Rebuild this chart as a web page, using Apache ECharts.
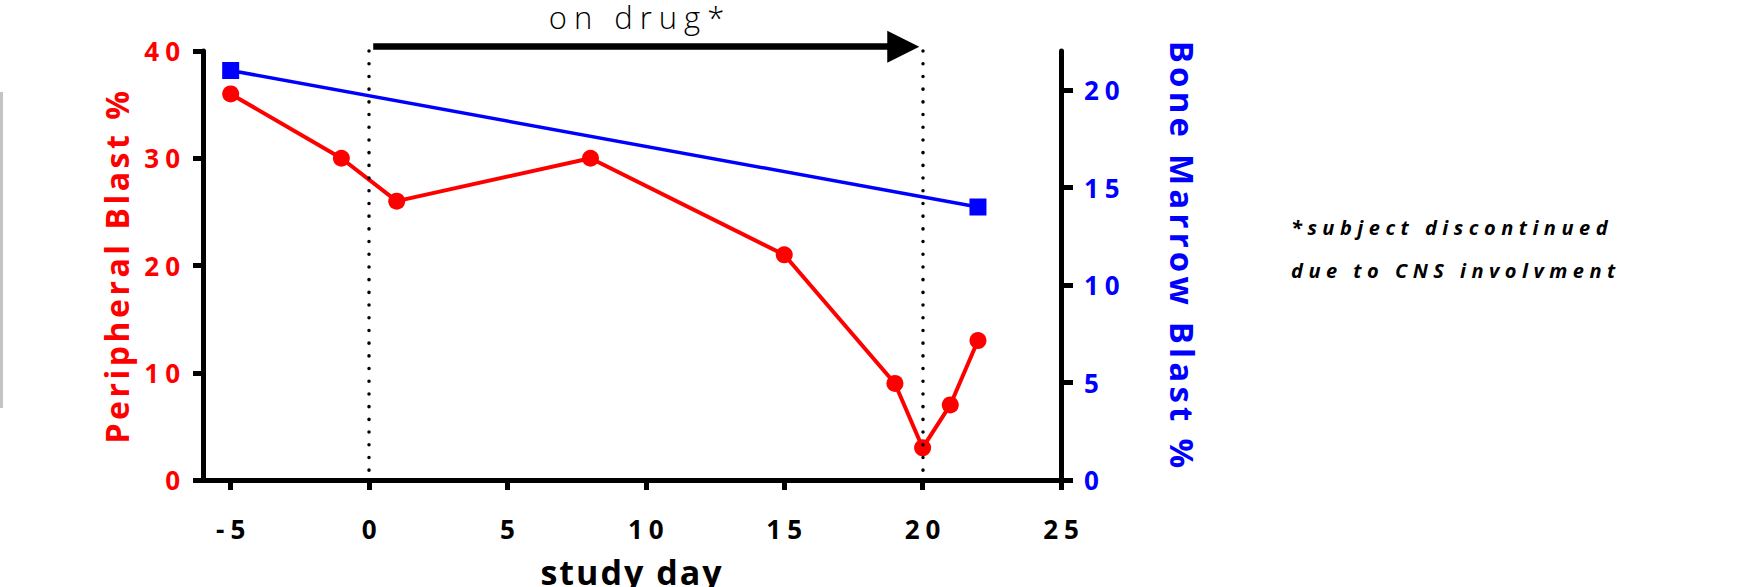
<!DOCTYPE html>
<html>
<head>
<meta charset="utf-8">
<script src="https://cdn.jsdelivr.net/npm/echarts@6.0.0/dist/echarts.min.js"></script>
<style>
  html, body { margin: 0; padding: 0; background: #fff; }
  #chart { width: 1754px; height: 587px; }
  /* letter spacing of the original figure's text */
  #chart text[style*="26px"] { letter-spacing: 6px; }
  #chart text[style*="32px"] { letter-spacing: 3.5px; }
  #chart text[style*="33px"] { letter-spacing: 4.2px; }
  #chart text[style*="34px"] { letter-spacing: 2px; }
  #chart text[style*="31px"] { letter-spacing: 7px; }
  #chart text[style*="20px"] { letter-spacing: 5.5px; }
</style>
</head>
<body>
<div id="chart"></div>
<script>
// ---- data ----
const peripheralDays = [-5, -1, 1, 8, 15, 19, 20, 21, 22];
const peripheralBlast = [36, 30, 26, 30, 21, 9, 3, 7, 13];
const marrowDays = [-5, 22];
const marrowBlast = [21, 14];
const xTicks = [-5, 0, 5, 10, 15, 20, 25];
const leftTicks = [0, 10, 20, 30, 40];
const rightTicks = [0, 5, 10, 15, 20];
const drugStartDay = 0;
const drugEndDay = 20;
const arrowFrom = 0.15, arrowTo = 19.3, arrowLevel = 40.4;

const FONT = '"Open Sans", "Noto Sans", sans-serif';

const chart = echarts.init(document.getElementById('chart'), null, { renderer: 'svg' });

const tickLabel = (color, extra) => Object.assign({
  color: color, fontFamily: FONT, fontWeight: 'bold', fontSize: 26
}, extra);

const option = {
  animation: false,
  backgroundColor: '#ffffff',
  grid: { left: 203, right: 693, top: 51, bottom: 107, containLabel: false, outerBoundsMode: 'none' },
  xAxis: {
    type: 'value', min: -6, max: 25,
    name: 'study day', nameLocation: 'middle', nameGap: 77,
    nameTextStyle: { color: '#000', fontFamily: FONT, fontWeight: 'bold', fontSize: 34, lineHeight: 29 },
    axisLine: { onZero: false, lineStyle: { color: '#000', width: 5 } },
    axisTick: { show: true, length: 10, inside: false, customValues: xTicks, lineStyle: { color: '#000', width: 5 } },
    axisLabel: tickLabel('#000', { margin: 36, customValues: xTicks, padding: [0, 0, 0, 6] }),
    splitLine: { show: false }
  },
  yAxis: [
    {
      type: 'value', min: 0, max: 40, interval: 10, position: 'left',
      name: 'Peripheral Blast %', nameLocation: 'middle', nameGap: 71, nameRotate: 90,
      nameTextStyle: { color: '#ff0000', fontFamily: FONT, fontWeight: 'bold', fontSize: 32 },
      axisLine: { show: true, onZero: false, lineStyle: { color: '#000', width: 5 } },
      axisTick: { show: true, length: 10, customValues: leftTicks, lineStyle: { color: '#000', width: 5 } },
      axisLabel: tickLabel('#ff0000', { margin: 17, customValues: leftTicks, padding: [10, 0, 0, 0] }),
      splitLine: { show: false }
    },
    {
      type: 'value', min: 0, max: 22, interval: 5, position: 'right',
      name: 'Bone Marrow Blast %', nameLocation: 'middle', nameGap: 105, nameRotate: -90,
      nameTextStyle: { color: '#0000ff', fontFamily: FONT, fontWeight: 'bold', fontSize: 33, padding: [0, 18, 0, 0] },
      axisLine: { show: true, onZero: false, lineStyle: { color: '#000', width: 5 } },
      axisTick: { show: true, length: 12, customValues: rightTicks, lineStyle: { color: '#000', width: 5 } },
      axisLabel: tickLabel('#0000ff', { margin: 23, customValues: rightTicks, padding: [10, 0, 0, 0] }),
      splitLine: { show: false }
    }
  ],
  series: [
    {
      name: 'Peripheral Blast %', type: 'line', yAxisIndex: 0,
      data: peripheralDays.map((d, i) => [d, peripheralBlast[i]]),
      symbol: 'circle', symbolSize: 17,
      itemStyle: { color: '#ff0000' },
      lineStyle: { color: '#ff0000', width: 4 },
      z: 4,
      markLine: {
        silent: true, symbol: ['none', 'none'], label: { show: false },
        lineStyle: { color: '#000', width: 3.5, type: [0.1, 12.6], cap: 'round' },
        emphasis: { disabled: true },
        data: [
          [{ coord: [drugStartDay, 40] }, { coord: [drugStartDay, 0] }],
          [{ coord: [drugEndDay, 40] }, { coord: [drugEndDay, 0] }]
        ]
      }
    },
    {
      name: 'Bone Marrow Blast %', type: 'line', yAxisIndex: 1,
      data: marrowDays.map((d, i) => [d, marrowBlast[i]]),
      symbol: 'rect', symbolSize: 17,
      itemStyle: { color: '#0000ff' },
      lineStyle: { color: '#0000ff', width: 3.5 },
      z: 3
    },
    {
      name: 'on drug', type: 'lines', coordinateSystem: 'cartesian2d',
      xAxisIndex: 0, yAxisIndex: 0, clip: false, silent: true,
      symbol: ['none', 'triangle'], symbolSize: [26, 32],
      lineStyle: { color: '#000', width: 6.5, opacity: 1 },
      data: [{ coords: [[arrowFrom, arrowLevel], [arrowTo, arrowLevel]] }],
      z: 5
    }
  ],
  graphic: [
    {
      type: 'text', x: 640, y: 17, silent: true,
      style: { text: 'on drug*', fill: '#000', font: '300 31px ' + FONT, lineHeight: 26, textAlign: 'center', textVerticalAlign: 'middle' }
    },
    {
      type: 'text', x: 1291, y: 249, silent: true,
      style: {
        text: '*subject discontinued\ndue to CNS involvment', fill: '#000',
        font: 'italic bold 20px ' + FONT, lineHeight: 43,
        textAlign: 'left', textVerticalAlign: 'middle'
      }
    },
    {
      type: 'rect', silent: true,
      shape: { x: 0, y: 92, width: 3, height: 316 },
      style: { fill: '#c4c4c4' }
    }
  ]
};

chart.setOption(option);
</script>
</body>
</html>
